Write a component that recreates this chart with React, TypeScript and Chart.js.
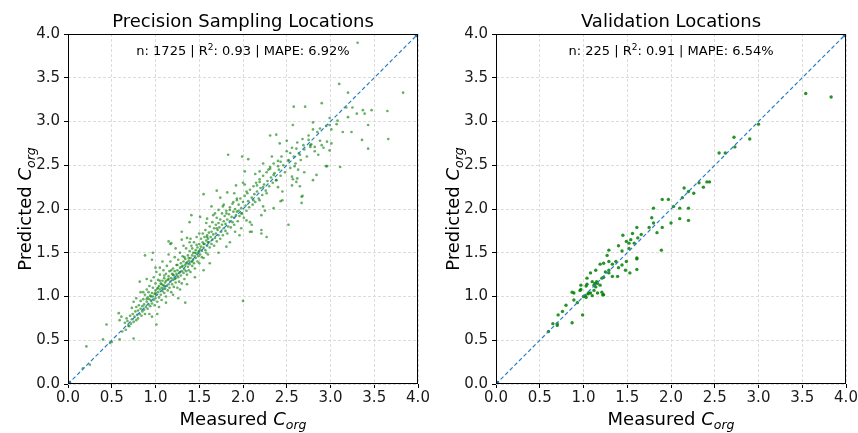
import React, { useEffect, useRef } from 'react';
import { Chart, registerables } from 'chart.js';

Chart.register(...registerables);

const FONT = '"DejaVu Sans", "Liberation Sans", sans-serif';

// ---------- data ----------
const axisMin = 0;
const axisMax = 4;
const axisStep = 0.5;

const diagonalX = [0, 4];
const diagonalY = [0, 4];

const precisionTitle = 'Precision Sampling Locations';
const precisionStats = ['1725', '0.93', '6.92%'];
const validationTitle = 'Validation Locations';
const validationStats = ['225', '0.91', '6.54%'];

const precisionMeasured = [
  0.17, 0.25, 0.21, 0.40, 0.44, 0.48, 0.50, 0.59, 0.75, 0.59,
  0.61, 0.58, 0.67, 0.69, 0.73, 0.75, 1.01, 0.82, 0.86, 0.88,
  0.96, 0.97, 1.05, 1.09, 1.26, 1.34, 0.96, 1.02, 2.00, 1.47,
  0.62, 0.65, 0.66, 0.68, 0.70, 0.71, 0.72, 0.73, 0.74, 0.75,
  0.76, 0.77, 0.78, 0.78, 0.79, 0.80, 0.80, 0.81, 0.82, 0.83,
  0.83, 0.84, 0.85, 0.85, 0.86, 0.87, 0.87, 0.88, 0.88, 0.89,
  0.90, 0.90, 0.91, 0.91, 0.92, 0.92, 0.93, 0.93, 0.94, 0.94,
  0.95, 0.95, 0.96, 0.96, 0.97, 0.97, 0.98, 0.98, 0.99, 0.99,
  1.00, 1.00, 1.00, 1.01, 1.01, 1.02, 1.02, 1.03, 1.03, 1.04,
  1.04, 1.05, 1.05, 1.06, 1.06, 1.07, 1.07, 1.08, 1.08, 1.09,
  1.09, 1.10, 1.10, 1.11, 1.11, 1.12, 1.12, 1.13, 1.13, 1.14,
  1.14, 1.15, 1.15, 1.16, 1.16, 1.17, 1.17, 1.18, 1.18, 1.19,
  1.19, 1.20, 1.20, 1.21, 1.21, 1.22, 1.22, 1.23, 1.23, 1.24,
  1.24, 1.25, 1.25, 1.26, 1.26, 1.27, 1.27, 1.28, 1.28, 1.29,
  1.29, 1.30, 1.30, 1.31, 1.31, 1.32, 1.32, 1.33, 1.33, 1.34,
  1.34, 1.35, 1.35, 1.36, 1.36, 1.37, 1.37, 1.38, 1.38, 1.39,
  1.39, 1.40, 1.40, 1.41, 1.41, 1.42, 1.42, 1.43, 1.43, 1.44,
  1.44, 1.45, 1.45, 1.46, 1.46, 1.47, 1.47, 1.48, 1.48, 1.49,
  1.49, 1.50, 1.50, 1.51, 1.51, 1.52, 1.52, 1.53, 1.53, 1.54,
  1.54, 1.55, 1.55, 1.56, 1.56, 1.57, 1.57, 1.58, 1.58, 1.59,
  1.59, 1.60, 1.60, 1.61, 1.61, 1.62, 1.62, 1.63, 1.64, 1.64,
  1.65, 1.65, 1.66, 1.67, 1.67, 1.68, 1.69, 1.69, 1.70, 1.70,
  1.71, 1.72, 1.72, 1.73, 1.74, 1.74, 1.75, 1.76, 1.76, 1.77,
  1.78, 1.78, 1.79, 1.80, 1.80, 1.81, 1.82, 1.82, 1.83, 1.84,
  1.85, 1.85, 1.86, 1.87, 1.88, 1.88, 1.89, 1.90, 1.90, 1.91,
  1.92, 1.93, 1.94, 1.95, 1.95, 1.96, 1.97, 1.98, 1.99, 2.00,
  2.01, 2.02, 2.03, 2.04, 2.05, 2.06, 2.07, 2.08, 2.10, 2.11,
  2.12, 2.13, 2.14, 2.15, 2.16, 2.18, 2.19, 2.20, 2.22, 2.23,
  2.24, 2.26, 2.27, 2.28, 2.30, 2.31, 2.32, 2.34, 2.35, 2.36,
  2.38, 2.40, 2.41, 2.43, 2.44, 2.46, 2.48, 2.50, 2.52, 2.54,
  2.56, 2.58, 2.60, 2.62, 2.64, 2.66, 2.68, 2.70, 2.73, 2.75,
  2.78, 2.82, 2.85, 2.88, 2.92, 2.95,
  1.55, 1.74, 1.82, 1.92, 2.02, 2.19, 2.19, 2.21, 2.08, 1.81,
  1.15, 1.18, 1.39, 1.30, 1.59, 1.83, 1.99, 2.06, 2.31, 2.38,
  2.42, 2.57, 2.58, 2.71, 2.90, 2.80, 2.88, 2.96, 2.99, 2.96,
  2.84, 2.68, 2.67, 2.56, 2.43, 2.35, 2.23, 2.31, 2.52, 2.54,
  2.61, 2.69, 2.77, 2.75, 2.82, 2.86, 2.65, 2.59, 2.56, 3.31,
  3.10, 3.20, 3.25, 3.37, 3.47, 3.65, 3.83, 3.20, 3.08, 2.99,
  3.01, 2.80, 3.14, 3.24, 3.43, 3.36, 3.66, 3.43, 3.01, 2.77,
  2.90, 3.18, 3.30, 3.39, 3.11, 2.95, 3.07, 2.99, 1.70, 2.40,
  2.43, 2.29, 2.35, 2.38, 2.40, 2.16, 2.23, 2.27, 2.04, 2.12,
  2.19, 2.00, 1.93, 1.89, 1.85, 1.93, 1.77, 1.81, 1.72, 1.64,
  1.66, 1.41, 1.51, 2.23, 2.21, 1.98, 2.04, 2.10, 1.98, 1.91,
  2.10, 2.27, 2.21, 1.70, 1.59, 1.30, 1.36, 1.39, 1.17, 2.52,
  2.45, 2.57, 2.61, 2.63, 2.70, 2.80, 2.65, 2.67,
  0.78, 0.83, 0.90, 0.93, 1.00, 1.04, 1.08, 1.12, 1.15, 1.20,
  1.23, 1.28, 1.32, 1.36, 1.40, 1.45, 1.50, 1.55, 1.58, 1.62,
  1.68, 1.72, 1.78, 1.85, 1.90, 1.96, 2.02, 2.08, 2.14, 2.25,
  2.33, 2.45, 2.50, 2.62, 1.05, 1.10, 1.18, 1.25, 1.33, 1.42,
  1.10, 1.12, 1.15, 1.20, 1.22, 1.25, 1.28, 1.30, 1.35, 1.38,
  1.42, 1.45, 1.50, 1.55, 1.60, 0.95, 1.00, 1.03, 1.07, 0.90,
];

const precisionPredicted = [
  0.18, 0.22, 0.43, 0.51, 0.68, 0.47, 0.48, 0.51, 0.52, 0.73,
  0.77, 0.81, 0.75, 0.67, 0.87, 0.94, 0.68, 1.17, 1.05, 1.47,
  1.42, 1.50, 1.33, 1.09, 0.98, 0.93, 0.77, 0.80, 0.95, 1.59,
  0.60, 0.70, 0.62, 0.72, 0.66, 0.78, 0.69, 0.74, 0.80, 0.71,
  0.77, 0.83, 0.73, 0.88, 0.79, 0.75, 0.84, 0.90, 0.80, 0.86,
  0.95, 0.78, 0.89, 0.83, 0.97, 0.85, 0.91, 1.02, 0.80, 0.88,
  0.94, 1.08, 0.86, 0.99, 0.91, 1.05, 0.97, 1.12, 0.89, 1.01,
  0.95, 1.18, 1.04, 0.92, 1.00, 1.10, 0.96, 1.22, 1.03, 0.90,
  1.07, 0.98, 1.15, 1.02, 1.28, 0.94, 1.09, 1.05, 1.19, 0.99,
  1.12, 1.08, 1.25, 1.02, 1.15, 1.10, 0.96, 1.18, 1.06, 1.30,
  1.13, 1.04, 1.21, 1.09, 1.16, 1.26, 1.00, 1.12, 1.35, 1.19,
  1.07, 1.23, 1.14, 1.29, 1.10, 1.17, 1.40, 1.21, 1.05, 1.26,
  1.14, 1.32, 1.19, 1.11, 1.24, 1.29, 1.45, 1.16, 1.21, 1.36,
  1.26, 1.10, 1.30, 1.22, 1.42, 1.27, 1.17, 1.33, 1.50, 1.24,
  1.38, 1.29, 1.15, 1.35, 1.46, 1.27, 1.40, 1.31, 1.20, 1.43,
  1.36, 1.29, 1.55, 1.39, 1.25, 1.47, 1.34, 1.41, 1.30, 1.52,
  1.37, 1.44, 1.28, 1.40, 1.58, 1.47, 1.35, 1.50, 1.42, 1.62,
  1.38, 1.46, 1.32, 1.53, 1.44, 1.68, 1.49, 1.40, 1.56, 1.51,
  1.46, 1.60, 1.38, 1.54, 1.48, 1.66, 1.57, 1.45, 1.52, 1.62,
  1.72, 1.56, 1.44, 1.60, 1.68, 1.53, 1.76, 1.64, 1.50, 1.58,
  1.70, 1.66, 1.48, 1.73, 1.62, 1.80, 1.56, 1.68, 1.74, 1.60,
  1.65, 1.85, 1.71, 1.58, 1.78, 1.67, 1.82, 1.72, 1.63, 1.90,
  1.76, 1.70, 1.84, 1.79, 1.66, 1.88, 1.74, 1.82, 1.95, 1.70,
  1.86, 1.78, 1.92, 1.75, 1.83, 1.98, 1.88, 1.72, 1.80, 1.94,
  1.86, 2.02, 1.79, 1.91, 1.85, 2.06, 1.97, 1.82, 1.90, 2.00,
  1.93, 2.10, 1.86, 1.98, 2.05, 1.92, 2.12, 2.01, 1.95, 2.08,
  1.90, 2.15, 2.04, 1.98, 2.18, 2.09, 2.02, 2.22, 2.13, 2.05,
  2.26, 2.17, 2.08, 2.30, 2.20, 2.12, 2.34, 2.24, 2.16, 2.38,
  2.28, 2.21, 2.42, 2.32, 2.26, 2.46, 2.36, 2.30, 2.52, 2.41,
  2.33, 2.55, 2.45, 2.38, 2.60, 2.50, 2.42, 2.66, 2.55, 2.47,
  2.70, 2.60, 2.52, 2.76, 2.64, 2.56, 2.80, 2.68, 2.60, 2.84,
  2.74, 2.66, 2.88, 2.78, 2.70, 2.95,
  2.17, 2.13, 2.19, 2.27, 2.43, 2.43, 2.31, 1.76, 1.74, 1.57,
  1.63, 1.61, 1.85, 1.74, 1.89, 2.62, 2.60, 2.57, 2.84, 2.85,
  2.75, 2.96, 3.17, 3.17, 3.21, 2.99, 2.92, 2.77, 2.67, 2.49,
  2.39, 2.15, 2.07, 2.27, 2.09, 2.01, 2.52, 2.48, 2.56, 2.64,
  2.69, 2.73, 2.73, 2.79, 2.71, 2.62, 2.62, 2.49, 2.37, 3.90,
  3.43, 3.33, 3.16, 3.13, 3.13, 3.12, 3.33, 3.05, 3.01, 2.96,
  2.91, 2.91, 2.88, 2.88, 2.96, 2.79, 2.80, 2.69, 2.75, 2.71,
  2.73, 3.16, 3.09, 3.09, 2.48, 2.49, 2.97, 3.04, 2.21, 2.49,
  2.54, 2.45, 2.39, 2.33, 2.25, 2.27, 2.25, 2.18, 2.20, 2.10,
  2.10, 2.30, 2.12, 2.08, 1.99, 1.97, 2.03, 1.95, 1.99, 2.03,
  1.93, 1.93, 1.91, 2.03, 1.93, 1.95, 1.87, 1.82, 1.78, 1.74,
  1.74, 1.68, 1.72, 1.78, 1.68, 1.65, 1.67, 1.62, 1.60, 1.82,
  2.10, 2.34, 2.31, 2.45, 2.42, 2.33, 2.26, 2.14,
  0.98, 1.05, 1.20, 0.80, 1.33, 0.88, 1.40, 0.93, 1.48, 1.02,
  1.55, 1.08, 1.58, 1.14, 1.66, 1.22, 1.72, 1.30, 1.84, 1.38,
  1.95, 1.50, 2.05, 1.62, 2.18, 1.70, 2.28, 1.85, 2.40, 1.98,
  2.60, 2.20, 2.78, 2.35, 1.18, 1.24, 1.30, 1.36, 1.45, 1.55,
  1.12, 1.18, 1.20, 1.25, 1.20, 1.24, 1.28, 1.34, 1.38, 1.44,
  1.40, 1.50, 1.52, 1.60, 1.62, 1.00, 1.04, 1.10, 1.14, 0.97,
];

const validationMeasured = [
  1.90, 1.97, 1.80, 1.78, 1.80, 1.75, 1.84, 1.89, 1.66, 1.61,
  1.56, 1.54, 1.62, 1.45, 1.49, 1.52, 1.40, 1.44, 1.52, 1.58,
  1.61, 1.61, 1.53, 1.49, 1.48, 1.40, 1.39, 1.44, 1.37, 1.33,
  1.29, 1.27, 1.29, 1.23, 1.19, 1.29, 1.33, 1.29, 1.25, 1.21,
  1.19, 1.23, 1.08, 1.14, 1.04, 1.10, 1.12, 1.16, 1.14, 0.97,
  0.96, 1.03, 1.12, 1.16, 1.21, 1.23, 1.06, 1.10, 1.00, 1.03,
  0.87, 0.89, 0.89, 0.93, 0.80, 0.76, 0.71, 0.70, 0.65, 0.87,
  0.99, 0.60, 0.70, 0.97, 1.04, 1.02, 1.05, 1.08, 1.22, 1.15,
  1.13, 2.55, 2.62, 2.41, 2.44, 2.37, 2.32, 2.26, 2.20, 2.15,
  2.13, 2.10, 2.20, 2.20, 2.10, 2.03, 2.00, 1.90, 1.61, 3.54,
  3.83, 3.00, 2.72, 2.90, 2.73,
];

const validationPredicted = [
  2.11, 2.11, 2.01, 1.90, 1.84, 1.79, 1.73, 1.53, 1.71, 1.79,
  1.72, 1.65, 1.67, 1.70, 1.63, 1.61, 1.58, 1.52, 1.55, 1.61,
  1.43, 1.31, 1.27, 1.40, 1.30, 1.33, 1.23, 1.36, 1.40, 1.37,
  1.40, 1.47, 1.53, 1.38, 1.37, 1.30, 1.23, 1.27, 1.28, 1.21,
  1.13, 1.22, 1.27, 1.30, 1.21, 1.17, 1.13, 1.15, 1.11, 1.13,
  1.07, 1.12, 1.07, 1.04, 1.05, 1.02, 1.04, 1.01, 1.00, 0.99,
  1.05, 1.04, 0.96, 0.93, 0.90, 0.83, 0.79, 0.67, 0.69, 0.70,
  0.79, 0.60, 0.69, 1.08, 1.14, 1.01, 1.03, 1.04, 1.02, 1.17,
  1.15, 2.64, 2.64, 2.31, 2.31, 2.25, 2.30, 2.18, 2.20, 2.24,
  2.13, 2.01, 2.01, 1.87, 1.89, 2.03, 1.84, 1.79, 1.44, 3.32,
  3.28, 2.97, 2.82, 2.80, 2.71,
];

// ---------- drawing helpers ----------
type Part = { t: string; f: string; dy?: number };

function drawParts(ctx: CanvasRenderingContext2D, parts: Part[], cx: number, y: number) {
  let w = 0;
  for (const p of parts) {
    ctx.font = p.f;
    w += ctx.measureText(p.t).width;
  }
  let x = cx - w / 2;
  for (const p of parts) {
    ctx.font = p.f;
    ctx.fillText(p.t, x, y + (p.dy || 0));
    x += ctx.measureText(p.t).width;
  }
}

const labelParts = (word: string): Part[] => [
  { t: word + ' ', f: `18px ${FONT}` },
  { t: 'C', f: `italic 18px ${FONT}` },
  { t: 'org', f: `italic 12.5px ${FONT}`, dy: 4 },
];

const textPlugin = {
  id: 'mplText',
  afterDraw(chart: any, _args: any, opts: any) {
    const { ctx, chartArea: a } = chart;
    const cx = (a.left + a.right) / 2;
    const cy = (a.top + a.bottom) / 2;
    ctx.save();
    ctx.strokeStyle = '#000';
    ctx.lineWidth = 1;
    ctx.setLineDash([]);
    ctx.strokeRect(Math.round(a.left) + 0.5, Math.round(a.top) + 0.5, Math.round(a.right - a.left) - 1, Math.round(a.bottom - a.top) - 1);

    ctx.fillStyle = '#000';
    ctx.textAlign = 'left';
    ctx.textBaseline = 'alphabetic';
    drawParts(ctx, [{ t: opts.title, f: `18px ${FONT}` }], cx, 27);
    const s: string[] = opts.stats;
    drawParts(
      ctx,
      [
        { t: `n: ${s[0]} | R`, f: `13px ${FONT}` },
        { t: '2', f: `9px ${FONT}`, dy: -5 },
        { t: `: ${s[1]} | MAPE: ${s[2]}`, f: `13px ${FONT}` },
      ],
      cx,
      55
    );
    drawParts(ctx, labelParts('Measured'), cx, 425);
    ctx.save();
    ctx.translate(a.left - 37, cy);
    ctx.rotate(-Math.PI / 2);
    drawParts(ctx, labelParts('Predicted'), 0, 0);
    ctx.restore();
    ctx.restore();
  },
};

function axisOptions(kind: 'x' | 'y', yAxisWidth: number) {
  return {
    type: 'linear',
    position: kind === 'x' ? 'bottom' : 'left',
    min: axisMin,
    max: axisMax,
    ticks: {
      stepSize: axisStep,
      autoSkip: false,
      maxRotation: 0,
      color: '#1a1a1a',
      padding: kind === 'x' ? 1 : 4,
      font: { family: FONT, size: 15 },
      callback: (v: any) => Number(v).toFixed(1),
    },
    grid: {
      color: '#dcdcdc',
      lineWidth: 1,
      drawTicks: true,
      tickLength: 4,
      tickColor: '#000',
      tickWidth: 1,
      tickBorderDash: [],
    },
    border: { display: false, dash: [3, 2] },
    afterFit: (scale: any) => {
      if (kind === 'x') {
        scale.height = 49;
        scale.paddingLeft = 0;
        scale.paddingRight = 0;
      } else {
        scale.width = yAxisWidth;
        scale.paddingTop = 0;
        scale.paddingBottom = 0;
      }
    },
  };
}

type PanelProps = {
  left: number;
  width: number;
  yAxisWidth: number;
  rightPad: number;
  measured: number[];
  predicted: number[];
  title: string;
  stats: string[];
  radius: number;
  color: string;
};

function ScatterPanel(p: PanelProps) {
  const ref = useRef<HTMLCanvasElement>(null);
  useEffect(() => {
    const pts = p.measured.map((x, i) => ({ x, y: p.predicted[i] }));
    const diag = diagonalX.map((x, i) => ({ x, y: diagonalY[i] }));
    const chart = new Chart(ref.current as HTMLCanvasElement, {
      type: 'scatter',
      data: {
        datasets: [
          {
            type: 'line',
            data: diag,
            borderColor: '#2a7fc2',
            borderWidth: 1.2,
            borderDash: [4, 2.5],
            pointRadius: 3.5,
            pointBackgroundColor: '#1f77b4',
            pointBorderWidth: 0,
            fill: false,
            tension: 0,
          } as any,
          {
            type: 'scatter',
            data: pts,
            pointRadius: p.radius,
            pointBackgroundColor: p.color,
            pointBorderWidth: 0,
            showLine: false,
          } as any,
        ],
      },
      options: {
        responsive: false,
        maintainAspectRatio: false,
        animation: false,
        events: [],
        layout: { padding: { left: 0, right: p.rightPad, top: 34, bottom: 0 } },
        scales: {
          x: axisOptions('x', p.yAxisWidth) as any,
          y: axisOptions('y', p.yAxisWidth) as any,
        },
        plugins: {
          legend: { display: false },
          tooltip: { enabled: false },
          title: { display: false },
          mplText: { title: p.title, stats: p.stats },
        } as any,
      },
      plugins: [textPlugin as any],
    });
    return () => chart.destroy();
  }, []);
  return (
    <div style={{ position: 'absolute', left: p.left, top: 0, width: p.width, height: 433 }}>
      <canvas ref={ref} width={p.width} height={433} style={{ display: 'block', width: p.width, height: 433 }} />
    </div>
  );
}

export default function App() {
  return (
    <div style={{ position: 'fixed', left: 0, top: 0, width: 858, height: 433, background: '#fff', overflow: 'hidden' }}>
      <ScatterPanel
        left={0}
        width={429}
        yAxisWidth={68}
        rightPad={11}
        measured={precisionMeasured}
        predicted={precisionPredicted}
        title={precisionTitle}
        stats={precisionStats}
        radius={1.35}
        color="rgba(0,125,0,0.6)"
      />
      <ScatterPanel
        left={429}
        width={429}
        yAxisWidth={67}
        rightPad={12}
        measured={validationMeasured}
        predicted={validationPredicted}
        title={validationTitle}
        stats={validationStats}
        radius={1.7}
        color="rgba(0,128,0,0.85)"
      />
    </div>
  );
}
